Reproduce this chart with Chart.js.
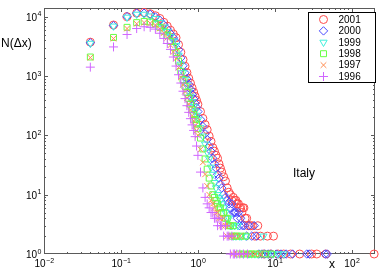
<!DOCTYPE html>
<html>
<head>
<meta charset="utf-8">
<script src="https://cdn.jsdelivr.net/npm/chart.js@4/dist/chart.umd.min.js"></script>
<style>
  html, body { margin: 0; padding: 0; background: #fff; }
  #c { display: block; }
</style>
</head>
<body>
<canvas id="c" width="382" height="273"></canvas>
<script>
// N(dx) distribution, Italy, 1996-2001 (log-log scatter)

// bin centres shared by all years
var xBins = [0.04, 0.08, 0.12, 0.16, 0.20, 0.24, 0.28, 0.32, 0.36, 0.40,
             0.44, 0.48, 0.52, 0.56, 0.60, 0.64, 0.68, 0.72, 0.76, 0.80,
             0.84, 0.88, 0.92, 0.96, 1.00, 1.08, 1.16, 1.24, 1.32, 1.40,
             1.48, 1.56, 1.64, 1.72, 1.80, 1.88, 1.96, 2.04, 2.16, 2.28,
             2.40, 2.52, 2.64, 2.76, 2.88, 3.00];

var n2001 = [3720, 7240, 10000, 11480, 11750, 11220, 10380, 9330, 8040, 6920,
             5910, 5090, 4420, 3380, 2510, 1890, 1460, 1140, 916, 760,
             631, 535, 454, 389, 334, 251, 193, 152, 124, 97,
             79, 62, 54, 46, 41, 33, 28, 24, 20, 17,
             13, 11, 10, 8, 9, 8];
var n2000 = [3630, 7080, 10000, 11480, 11480, 10960, 9890, 8710, 7310, 6170,
             5180, 4400, 3760, 2770, 2020, 1490, 1130, 891, 724, 596,
             490, 412, 347, 295, 251, 186, 141, 106, 85, 66,
             54, 41, 33, 28, 22, 19, 15, 13, 10, 9,
             8, 7, 6, 7, 5, 5];
var n1999 = [3550, 6920, 9770, 10960, 10960, 10230, 9260, 7940, 6670, 5610,
             4640, 3880, 3260, 2240, 1580, 1140, 875, 695, 559, 455,
             370, 308, 257, 217, 183, 134, 97, 71, 52, 40,
             29, 22, 16, 13, 10, 9, 8, 7, 6, 5,
             4, 4, 3, 3, 2, 3];
var n1998 = [2090, 4470, 6610, 7940, 8320, 8130, 7590, 6610, 5690, 4860,
             3830, 3070, 2480, 1780, 1200, 869, 673, 528, 419, 337,
             271, 224, 185, 155, 129, 90, 59, 40, 27, 19,
             14, 10, 9, 8, 7, 6, 6, 5, 5, 4,
             4, 3, 3, 2, 3, 2];
var n1997 = [2040, 4270, 6310, 7590, 7940, 7760, 7240, 6310, 5300, 4400,
             3310, 2540, 1970, 1390, 948, 710, 546, 425, 336, 268,
             215, 176, 145, 120, 100, 58, 35, 22, 14, 10,
             8, 7, 6, 5, 5, 4, 4, 3, 4, 3,
             2, 3, 2, 2, 1, 2];
var n1996 = [1410, 3090, 5010, 6310, 6760, 6610, 6170, 5250, 4300, 3530,
             2810, 2090, 1470, 1050, 761, 554, 416, 316, 244, 191,
             150, 121, 95, 66, 46, 24, 13, 9, 7, 6,
             5, 5, 4, 4, 3, 4, 3, 3, 2, 3,
             2, 2, 1, 2, 1, 1];

// sparse low-count points beyond x = 3  [x, N]
var t2001 = [[3.12, 8], [3.24, 7], [3.36, 7], [3.48, 6], [3.6, 6], [3.72, 5], [3.84, 6],
             [3.96, 6], [4.1, 4], [4.3, 4], [4.5, 3], [4.8, 3], [5.1, 3], [5.5, 2],
             [6.0, 3], [6.5, 2], [7.2, 1], [8.0, 2], [8.8, 1], [9.6, 2], [11, 1],
             [13, 1], [16, 1], [21, 1], [30, 1], [35, 1], [46, 1], [195, 1]];
var t2000 = [[3.12, 5], [3.24, 4], [3.36, 5], [3.48, 3], [3.6, 4], [3.8, 3], [4.0, 3],
             [4.3, 2], [4.6, 3], [5.0, 2], [5.4, 3], [5.8, 2], [6.2, 1], [6.8, 1],
             [7.4, 1], [8.2, 1], [9.0, 1], [10.5, 1], [12, 1], [14, 1], [17, 1],
             [26, 1], [28, 1], [45, 1], [48, 1]];
var t1999 = [[3.12, 2], [3.3, 3], [3.5, 2], [3.7, 2], [3.9, 1], [4.2, 2], [4.6, 1],
             [5.0, 1], [5.5, 1], [6.0, 1], [7.1, 2], [8.0, 1], [9.5, 1], [11, 1], [13, 1]];
var t1998 = [[3.2, 2], [3.4, 1], [3.6, 2], [3.9, 1], [4.2, 2], [4.6, 1], [5.0, 1],
             [5.6, 1], [6.3, 1], [7.5, 1], [9.0, 1]];
var t1997 = [[3.2, 1], [3.5, 2], [3.8, 1], [4.2, 1], [4.8, 1], [5.5, 1], [6.5, 1]];
var t1996 = [[3.2, 1], [3.5, 1], [3.9, 1], [4.4, 1]];

// decade tick labels: 10 with exponent
var xTickVals = [0.01, 0.1, 1, 10, 100];
var xTickExps = ['\u22122', '\u22121', '0', '1', '2'];
var yTickVals = [1, 10, 100, 1000, 10000];
var yTickExps = ['0', '1', '2', '3', '4'];

var FONT = '"Liberation Sans", Arial, Helvetica, sans-serif';

var series = [
  { label: '2001', n: n2001, tail: t2001, color: '#ff4a4a', style: 'circle',   r: 4,   rot: 0 },
  { label: '2000', n: n2000, tail: t2000, color: '#4a4aff', style: 'rectRot',  r: 4.2, rot: 0 },
  { label: '1999', n: n1999, tail: t1999, color: '#40f0dc', style: 'triangle', r: 4.2, rot: 180 },
  { label: '1998', n: n1998, tail: t1998, color: '#66ff44', style: 'rect',     r: 4.2, rot: 0 },
  { label: '1997', n: n1997, tail: t1997, color: '#ff8c50', style: 'crossRot', r: 4,   rot: 0 },
  { label: '1996', n: n1996, tail: t1996, color: '#d066ff', style: 'cross',    r: 4.5, rot: 0 }
];

function toPoints(counts, tail) {
  var pts = [];
  xBins.forEach(function (x, i) {
    if (counts[i] != null) pts.push({ x: x, y: counts[i] });
  });
  tail.forEach(function (p) { pts.push({ x: p[0], y: p[1] }); });
  return pts;
}

var datasets = series.map(function (s, i) {
  return {
    label: s.label,
    data: toPoints(s.n, s.tail),
    pointStyle: s.style,
    pointRadius: s.r,
    pointRotation: s.rot,
    pointBorderWidth: 1,
    borderColor: s.color,
    backgroundColor: 'rgba(0,0,0,0)',
    showLine: false,
    clip: false,
    order: series.length - 1 - i   // 1996 drawn last, on top
  };
});

// "10" with a raised exponent
function powLabel(ctx, base, exp, x, y, align) {
  ctx.font = '10px ' + FONT;
  var wb = ctx.measureText(base).width;
  ctx.font = '7px ' + FONT;
  var we = ctx.measureText(exp).width;
  var x0 = align === 'right' ? x - wb : x - (wb + we) / 2;
  ctx.textAlign = 'left';
  ctx.textBaseline = 'alphabetic';
  ctx.font = '10px ' + FONT;
  ctx.fillText(base, x0, y);
  ctx.font = '7px ' + FONT;
  ctx.fillText(exp, x0 + wb + 0.5, y - 4.5);
}

// box + inward ticks on all four sides, tick labels, legend and texts
var framePlugin = {
  id: 'frame',
  beforeDatasetsDraw: function (chart) {
    var ctx = chart.ctx, a = chart.chartArea, xs = chart.scales.x, ys = chart.scales.y;
    ctx.save();
    ctx.strokeStyle = '#5a5a5a';
    ctx.lineWidth = 1;
    ctx.beginPath();
    for (var d = -2; d <= 4; d++) {
      for (var m = 1; m <= 9; m++) {
        var v = m * Math.pow(10, d);
        var len = m === 1 ? 4 : 2;
        if (v > xs.min && v < xs.max) {
          var px = Math.round(xs.getPixelForValue(v)) + 0.5;
          ctx.moveTo(px, a.bottom); ctx.lineTo(px, a.bottom - len);
          ctx.moveTo(px, a.top); ctx.lineTo(px, a.top + len);
        }
        if (v > ys.min && v < ys.max) {
          var py = Math.round(ys.getPixelForValue(v)) + 0.5;
          ctx.moveTo(a.left, py); ctx.lineTo(a.left + len, py);
          ctx.moveTo(a.right, py); ctx.lineTo(a.right - len, py);
        }
      }
    }
    ctx.stroke();
    ctx.strokeRect(a.left + 0.5, a.top + 0.5, a.right - a.left - 1, a.bottom - a.top - 1);

    ctx.fillStyle = '#000';
    xTickVals.forEach(function (v, i) {
      powLabel(ctx, '10', xTickExps[i], xs.getPixelForValue(v), a.bottom + 13, 'center');
    });
    yTickVals.forEach(function (v, i) {
      powLabel(ctx, '10', yTickExps[i], a.left - 7, ys.getPixelForValue(v) + 4, 'right');
    });
    ctx.restore();
  },
  afterDraw: function (chart) {
    var ctx = chart.ctx, a = chart.chartArea;
    ctx.save();
    var lw = 67, lh = 70;
    var lx = a.right - lw + 0.5, ly = a.top + 4.5;
    ctx.fillStyle = '#fff';
    ctx.fillRect(lx, ly, lw, lh);
    ctx.strokeStyle = '#000';
    ctx.lineWidth = 1;
    ctx.strokeRect(lx, ly, lw, lh);
    ctx.font = '10px ' + FONT;
    ctx.textBaseline = 'middle';
    ctx.textAlign = 'left';
    chart.data.datasets.forEach(function (ds, i) {
      var cy = ly + 7 + i * 11.4;
      ctx.strokeStyle = ds.borderColor;
      ctx.fillStyle = 'rgba(0,0,0,0)';
      ctx.lineWidth = 1;
      if (Chart.helpers && Chart.helpers.drawPoint) {
        Chart.helpers.drawPoint(ctx, {
          pointStyle: ds.pointStyle, radius: ds.pointRadius,
          rotation: ds.pointRotation, borderWidth: 1
        }, lx + 15, cy);
      }
      ctx.fillStyle = '#000';
      ctx.fillText(ds.label, lx + 30, cy + 0.5);
    });
    ctx.fillStyle = '#000';
    ctx.font = '12px ' + FONT;
    ctx.textAlign = 'left';
    ctx.fillText('N(\u0394x)', 1, 44);
    ctx.fillText('Italy', 293, 174);
    ctx.textAlign = 'center';
    ctx.fillText('x', 332, 265);
    ctx.restore();
  }
};

new Chart(document.getElementById('c'), {
  type: 'scatter',
  data: { datasets: datasets },
  options: {
    responsive: false,
    animation: false,
    devicePixelRatio: 1,
    layout: { padding: { top: 8, right: 7, left: 0, bottom: 0 } },
    plugins: { legend: { display: false }, tooltip: { enabled: false } },
    scales: {
      x: {
        type: 'logarithmic',
        min: 0.01,
        max: 200,
        grid: { display: false },
        border: { display: false },
        ticks: { display: false },
        afterFit: function (s) { s.height = 19; }
      },
      y: {
        type: 'logarithmic',
        min: 1,
        max: 14000,
        grid: { display: false },
        border: { display: false },
        ticks: { display: false },
        afterFit: function (s) { s.width = 44; }
      }
    }
  },
  plugins: [framePlugin]
});
</script>
</body>
</html>
